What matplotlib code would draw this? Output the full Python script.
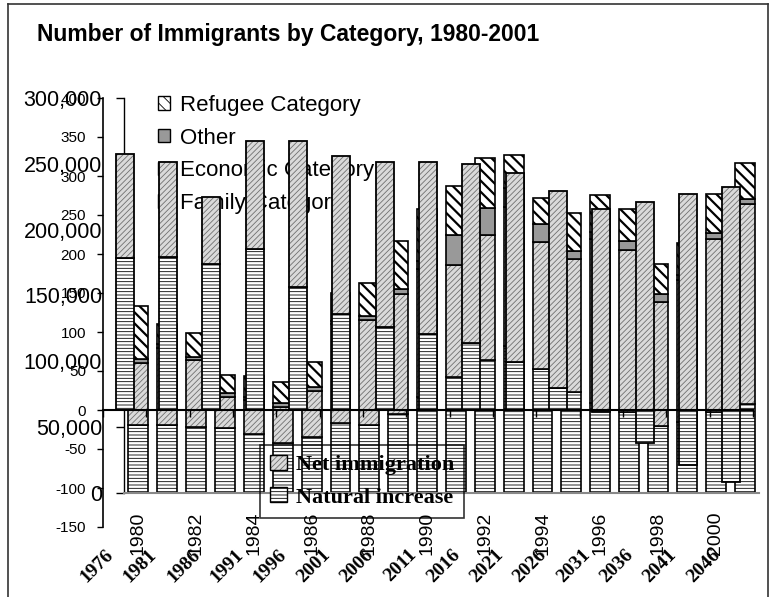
import numpy as np
import matplotlib.pyplot as plt
import matplotlib.transforms as mtransforms
from matplotlib.lines import Line2D
from matplotlib.patches import Patch

plt.rcParams['font.family'] = ['Liberation Sans', 'DejaVu Sans']
plt.rcParams['hatch.linewidth'] = 0.6
plt.rcParams['axes.unicode_minus'] = False

# chart A: immigrants by category, 1980-2001
years_a = list(range(1980, 2002))
family = [52000, 52000, 50000, 49000, 45000, 38000, 42500, 53000, 51600, 60000, 73000,
          88000, 101000, 112000, 94000, 77000, 68000, 61500, 51000, 54000, 61500, 67600]
economic = [47000, 58000, 51000, 24000, 26000, 27000, 35000, 75000, 80000, 91000, 97000,
            85000, 95000, 105000, 97000, 100500, 125000, 123000, 94000, 108000, 131500, 152000]
other = [3000, 3000, 2000, 3000, 2000, 3000, 3000, 3000, 3000, 4000, 6000,
         23000, 20500, 15000, 13000, 6000, 5000, 7000, 6000, 3500, 4500, 3800]
refugee = [40000, 15000, 18500, 13600, 15500, 16000, 19000, 21000, 25000, 36500, 40000,
           37000, 38000, 25000, 20000, 29000, 28000, 24000, 23000, 24000, 29600, 27500]

# chart B: population growth components (thousands), 1976-2046
years_b = ['1976', '1981', '1986', '1991', '1996', '2001', '2006', '2011',
           '2016', '2021', '2026', '2031', '2036', '2041', '2046']
natural = [195, 196, 187, 206, 158, 123, 107, 97, 86, 62, 28, -3, -42, -70, -92]
net_imm = [133, 122, 86, 139, 187, 203, 211, 221, 230, 242, 253, 258, 267, 277, 286]

W, H = 772, 597
fig = plt.figure(figsize=(W / 100, H / 100), dpi=100)

ax1 = fig.add_axes([124 / W, (H - 493) / H, 635 / W, 395 / H])
ax2 = fig.add_axes([103 / W, (H - 527) / H, 650 / W, 429 / H])
ax1.set_zorder(1)
ax2.set_zorder(2)
ax2.patch.set_visible(False)

DOT_FC, DOT_HC = '#dadada', '#707070'


def set_hlw(bars, lw):
    for p in bars:
        try:
            p.set_hatch_linewidth(lw)
        except AttributeError:
            pass


# ---- chart A
xa = np.arange(len(years_a))
fam = np.array(family)
eco = np.array(economic)
oth = np.array(other)
ref = np.array(refugee)
wa = 0.69
ax1.bar(xa, fam, wa, color='white', edgecolor='black', hatch='-----', lw=1.2)
ax1.bar(xa, eco, wa, bottom=fam, color=DOT_FC, edgecolor=DOT_HC, hatch='//////', lw=0)
ax1.bar(xa, eco, wa, bottom=fam, fill=False, edgecolor='black', lw=1.2)
ax1.bar(xa, oth, wa, bottom=fam + eco, color='#999999', edgecolor='black', lw=1.2)
rb = ax1.bar(xa, ref, wa, bottom=fam + eco + oth, color='white', edgecolor='black',
             hatch='\\\\\\', lw=1.2)
set_hlw(rb, 1.6)

ax1.set_xlim(-0.5, len(years_a) - 0.5)
ax1.set_ylim(0, 300000)
ax1.set_yticks(np.arange(0, 300001, 50000))
ax1.set_yticklabels([f'{v:,}' for v in range(0, 300001, 50000)], fontsize=15.5)
ax1.tick_params(axis='y', direction='out', length=5.8, width=1, pad=10)
even = [i for i, y in enumerate(years_a) if y % 2 == 0]
ax1.set_xticks(even)
ax1.set_xticklabels([str(years_a[i]) for i in even], rotation=90, fontsize=14)
ax1.tick_params(axis='x', length=0, pad=13.5)
for s in ['top', 'right']:
    ax1.spines[s].set_visible(False)
ax1.spines['bottom'].set_color('#888888')
ax1.spines['bottom'].set_linewidth(1.5)
ax1.spines['left'].set_linewidth(1)

h_ref = Patch(facecolor='white', edgecolor='black', hatch='\\\\\\')
h_oth = Patch(facecolor='#999999', edgecolor='black')
h_eco = (Patch(facecolor=DOT_FC, edgecolor=DOT_HC, hatch='//////', lw=0),
         Patch(fill=False, edgecolor='black'))
h_fam = Patch(facecolor='white', edgecolor='black', hatch='-----')
ax1.legend([h_ref, h_oth, h_eco, h_fam],
           ['Refugee Category', 'Other', 'Economic Category', 'Family Category'],
           loc='upper left', bbox_to_anchor=(158 / W, 1 - 95 / H),
           bbox_transform=fig.transFigure, frameon=False, fontsize=16,
           handlelength=0.55, handleheight=0.55, handletextpad=0.45,
           labelspacing=0.52, borderpad=0, borderaxespad=0)

# ---- chart B
xb = np.arange(len(years_b))
nat = np.array(natural)
net = np.array(net_imm)
wb = 0.42
ax2.bar(xb, nat, wb, color='white', edgecolor='black', hatch='-----', lw=1.3)
base = np.maximum(nat, 0)
ax2.bar(xb, net, wb, bottom=base, color=DOT_FC, edgecolor=DOT_HC, hatch='//////', lw=0)
ax2.bar(xb, net, wb, bottom=base, fill=False, edgecolor='black', lw=1.3)

ax2.set_xlim(-0.5, len(years_b) - 0.5)
ax2.set_ylim(-150, 400)
ax2.set_yticks(np.arange(-150, 401, 50))
ax2.tick_params(axis='y', direction='out', length=4.3, width=1, labelsize=11, pad=8)
ax2.spines['bottom'].set_position(('data', 0))
ax2.spines['bottom'].set_linewidth(1.5)
ax2.spines['left'].set_linewidth(1.2)
for s in ['top', 'right']:
    ax2.spines[s].set_visible(False)
ax2.set_xticks(np.arange(-0.5, len(years_b), 1))
ax2.tick_params(axis='x', direction='out', length=5, width=1, labelbottom=False)

lab_tr = mtransforms.blended_transform_factory(ax2.transData, ax2.transAxes) + \
    mtransforms.ScaledTranslation(-20 / 100, -19 / 100, fig.dpi_scale_trans)
for i, lab in enumerate(years_b):
    ax2.text(i, 0, lab, transform=lab_tr, rotation=45, ha='right', va='top',
             rotation_mode='anchor', fontsize=14, fontweight='bold',
             family=['Liberation Serif', 'DejaVu Serif'])

h_net = (Patch(facecolor=DOT_FC, edgecolor=DOT_HC, hatch='//////', lw=0),
         Patch(fill=False, edgecolor='black'))
h_nat = Patch(facecolor='white', edgecolor='black', hatch='-----')
leg = ax2.legend([h_net, h_nat], ['Net immigration', 'Natural increase'],
                 loc='upper left', bbox_to_anchor=(260 / W, 1 - 445 / H),
                 bbox_transform=fig.transFigure, fancybox=False,
                 prop={'family': ['Liberation Serif'], 'weight': 'bold', 'size': 16},
                 handlelength=0.75, handleheight=0.65, handletextpad=0.4,
                 labelspacing=0.55, borderpad=0.45, borderaxespad=0)
leg.get_frame().set_facecolor('none')
leg.get_frame().set_edgecolor('black')
leg.get_frame().set_linewidth(1.2)

# ---- title and outer frame
fig.text(37 / W, 1 - 35 / H, 'Number of Immigrants by Category, 1980-2001',
         fontsize=16.5, fontweight='bold', va='center', ha='left')
fl, fr, ft = 8 / W, 768 / W, 1 - 4 / H
for xs, ys in [([fl, fl], [0, ft]), ([fl, fr], [ft, ft]), ([fr, fr], [ft, 0])]:
    fig.add_artist(Line2D(xs, ys, color='#333333', lw=1.2))

fig.savefig('out.png', dpi=100)
